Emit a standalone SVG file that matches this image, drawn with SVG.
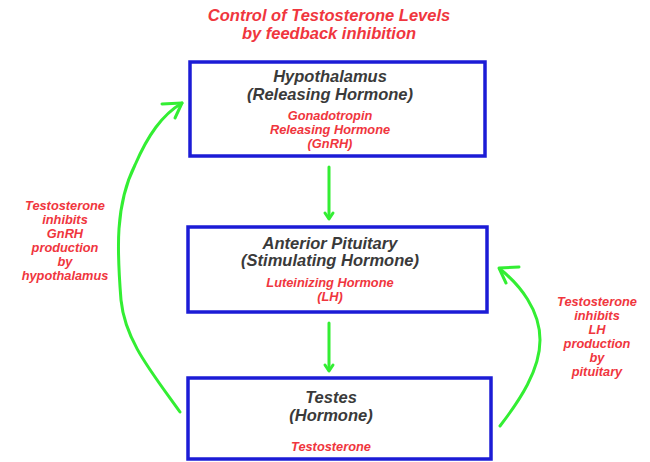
<svg xmlns="http://www.w3.org/2000/svg" width="650" height="462" viewBox="0 0 650 462">
<style>
.box{fill:#fff;stroke:#1c1cd6;stroke-width:3.5}
.h{font-family:"Liberation Sans",Arial,sans-serif;font-weight:bold;font-style:italic;font-size:16.5px;fill:#3a3a3a;text-anchor:middle}
.r{font-family:"Liberation Sans",Arial,sans-serif;font-weight:bold;font-style:italic;font-size:12.8px;fill:#f0363e;text-anchor:middle}
.t{font-family:"Liberation Sans",Arial,sans-serif;font-weight:bold;font-style:italic;font-size:16.5px;fill:#f0363e;text-anchor:middle}
.g{fill:none;stroke:#33ee33;stroke-width:3;stroke-linecap:round;stroke-linejoin:round}
</style>
<rect width="650" height="462" fill="#fff"/>
<g id="title">
<text class="t" x="329" y="21">Control of Testosterone Levels</text>
<text class="t" x="329" y="39">by feedback inhibition</text>
</g>
<g id="hypothalamus">
<rect class="box" x="190" y="62" width="295" height="94"/>
<text class="h" x="330" y="82">Hypothalamus</text>
<text class="h" x="330" y="100">(Releasing Hormone)</text>
<text class="r" x="330" y="120">Gonadotropin</text>
<text class="r" x="330" y="134">Releasing Hormone</text>
<text class="r" x="330" y="148">(GnRH)</text>
</g>
<g id="pituitary">
<rect class="box" x="188" y="227" width="299" height="85"/>
<text class="h" x="330" y="249">Anterior Pituitary</text>
<text class="h" x="330" y="266">(Stimulating Hormone)</text>
<text class="r" x="330" y="287">Luteinizing Hormone</text>
<text class="r" x="330" y="301">(LH)</text>
</g>
<g id="testes">
<rect class="box" x="188" y="378" width="303" height="81"/>
<text class="h" x="331" y="403">Testes</text>
<text class="h" x="331" y="421">(Hormone)</text>
<text class="r" x="331" y="451">Testosterone</text>
</g>
<g id="label-left">
<text class="r" x="65" y="210">Testosterone</text>
<text class="r" x="65" y="224">inhibits</text>
<text class="r" x="65" y="238">GnRH</text>
<text class="r" x="65" y="252">production</text>
<text class="r" x="65" y="266">by</text>
<text class="r" x="65" y="280">hypothalamus</text>
</g>
<g id="label-right">
<text class="r" x="597" y="306">Testosterone</text>
<text class="r" x="597" y="320">inhibits</text>
<text class="r" x="597" y="334">LH</text>
<text class="r" x="597" y="348">production</text>
<text class="r" x="597" y="362">by</text>
<text class="r" x="597" y="376">pituitary</text>
</g>
<g id="connectors">
<line class="g" x1="329" y1="167" x2="329" y2="218"/>
<polyline class="g" points="325,213 329,219 333,213"/>
<line class="g" x1="329" y1="323" x2="329" y2="370"/>
<polyline class="g" points="325,365 329,371 333,365"/>
<path class="g" d="M180,412 C150,370 125,340 121,300 C117,250 115,205 135,165 C148,135 162,115 182,103"/>
<polyline class="g" points="162,104 182,103 175,118"/>
<path class="g" d="M500,426 C520,400 540,370 540,340 C540,310 520,285 500,269"/>
<polyline class="g" points="519,267 499,268 506,283"/>
</g>
</svg>
